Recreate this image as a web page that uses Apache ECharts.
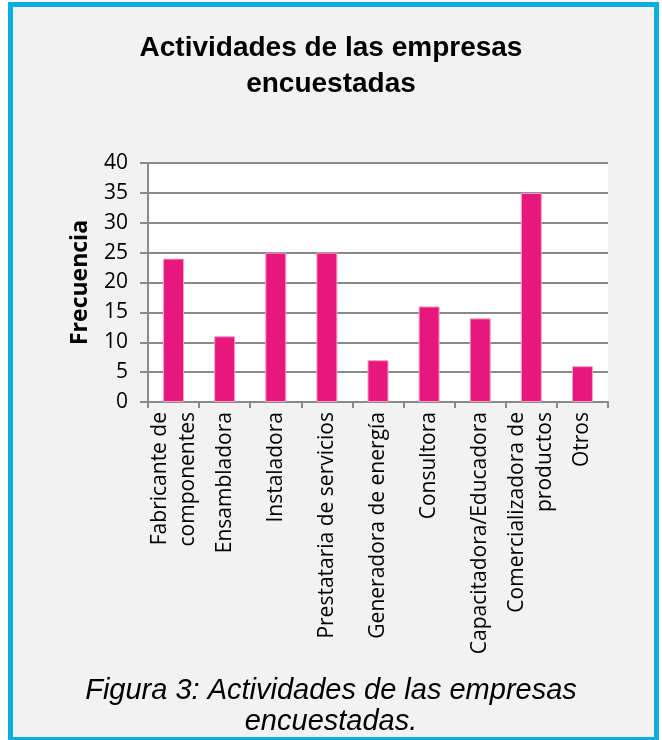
<!DOCTYPE html>
<html>
<head>
<meta charset="utf-8">
<script src="https://cdn.jsdelivr.net/npm/echarts@6/dist/echarts.min.js"></script>
<style>
  body { margin: 0; background: #fff; }
  #frame {
    position: absolute; left: 8px; top: 2px; width: 651px; height: 740px;
    box-sizing: border-box; border: 5px solid #0AAEDF; background: #F2F2F2;
  }
  #chart { position: absolute; left: 0; top: 0; width: 662px; height: 740px; }
</style>
</head>
<body>
<div id="frame"></div>
<div id="chart"></div>
<script>
// categorias y frecuencias
const categories = [
  'Fabricante de\ncomponentes',
  'Ensambladora',
  'Instaladora',
  'Prestataria de servicios',
  'Generadora de energía',
  'Consultora',
  'Capacitadora/Educadora',
  'Comercializadora de\nproductos',
  'Otros'
];
const frecuencia = [24, 11, 25, 25, 7, 16, 14, 35, 6];

const gray = '#8a8a8a';

const chart = echarts.init(document.getElementById('chart'));
const option = {
  backgroundColor: 'transparent',
  animation: false,
  title: [
    {
      text: 'Actividades de las empresas\nencuestadas',
      left: 'center',
      top: 25,
      textStyle: {
        fontFamily: 'Liberation Sans',
        fontWeight: 'bold',
        fontSize: 28,
        lineHeight: 36,
        color: '#000'
      }
    },
    {
      text: 'Figura 3: Actividades de las empresas\nencuestadas.',
      left: 'center',
      top: 670,
      textStyle: {
        fontFamily: 'Liberation Sans',
        fontStyle: 'italic',
        fontWeight: 'normal',
        fontSize: 29,
        lineHeight: 31,
        color: '#000'
      }
    }
  ],
  grid: {
    left: 148,
    right: 54,
    top: 163,
    bottom: 338,
    show: true,
    backgroundColor: '#fff',
    borderWidth: 0
  },
  xAxis: {
    type: 'category',
    data: categories,
    axisLine: { lineStyle: { color: gray, width: 2 } },
    axisTick: { show: true, length: 6, lineStyle: { color: gray, width: 2 } },
    axisLabel: {
      interval: 0,
      rotate: 90,
      margin: 10,
      fontFamily: 'Open Sans',
      fontSize: 21,
      lineHeight: 28,
      color: '#000'
    }
  },
  yAxis: {
    type: 'value',
    min: 0,
    max: 40,
    interval: 5,
    name: 'Frecuencia',
    nameLocation: 'middle',
    nameGap: 56,
    nameTextStyle: {
      fontFamily: 'Open Sans',
      fontWeight: 'bold',
      fontSize: 23,
      color: '#000'
    },
    axisLine: { show: true, lineStyle: { color: gray, width: 2 } },
    axisTick: { show: true, length: 8, lineStyle: { color: gray, width: 2 } },
    splitLine: { lineStyle: { color: gray, width: 2 } },
    axisLabel: {
      margin: 20,
      fontFamily: 'Open Sans',
      fontSize: 21,
      color: '#000'
    }
  },
  series: [
    {
      type: 'bar',
      data: frecuencia,
      barWidth: 21,
      itemStyle: {
        color: '#E8177D',
        borderColor: '#F5A3C7',
        borderWidth: 1
      }
    }
  ]
};
chart.setOption(option);
</script>
</body>
</html>
